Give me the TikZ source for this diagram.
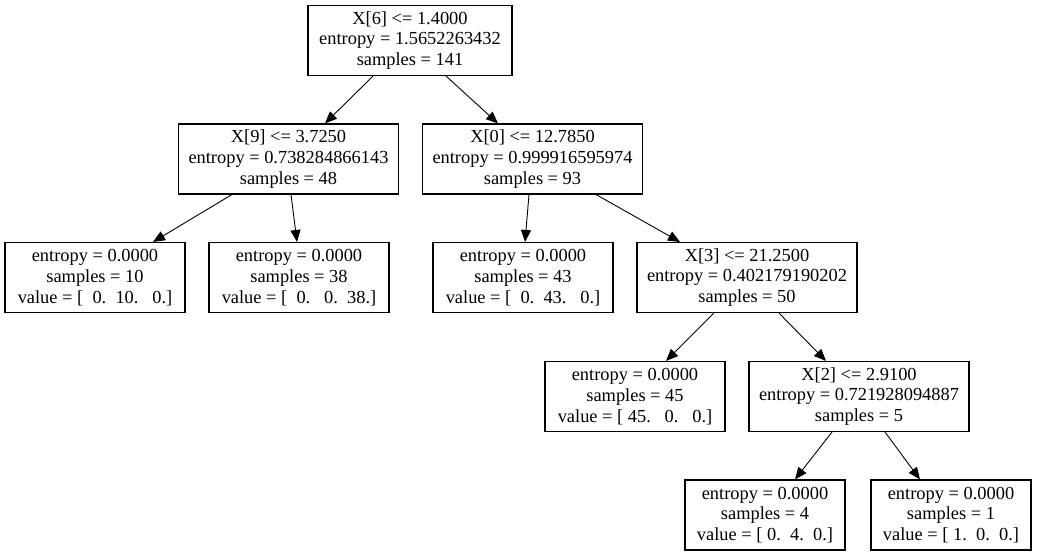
\documentclass[tikz,border=0pt]{standalone}
\usepackage{fontspec}
\setmainfont{Liberation Serif}
\usetikzlibrary{arrows.meta}
\begin{document}
\begin{tikzpicture}[x=1pt,y=1pt,
  box/.style={draw=black, line width=1.1pt, rectangle, align=center, inner sep=0pt,
    font=\fontsize{18.4}{20.8}\selectfont, text=black},
  inner/.style={box, minimum width=220pt, minimum height=70pt},
  leaf/.style={box, minimum width=180pt, minimum height=70pt},
  sleaf/.style={box, minimum width=160pt, minimum height=70pt},
  edge/.style={draw=black, line width=0.9pt, -{Triangle[length=12pt,width=10pt]}}]
\useasboundingbox[fill=white] (0,0) rectangle (1037,-556);
\node[box, minimum width=204pt, minimum height=70pt] (root) at (410,-40.5) {X[6] <= 1.4000\\entropy = 1.5652263432\\samples = 141};
\node[inner] (x9) at (288.5,-159) {X[9] <= 3.7250\\entropy = 0.738284866143\\samples = 48};
\node[inner] (x0) at (532.5,-159) {X[0] <= 12.7850\\entropy = 0.999916595974\\samples = 93};
\node[leaf] (l10) at (95,-277.5) {entropy = 0.0000\\samples = 10\\value = [\ \ 0.\ \ 10.\ \ \ 0.]};
\node[leaf] (l38) at (299,-277.5) {entropy = 0.0000\\samples = 38\\value = [\ \ 0.\ \ \ 0.\ \ 38.]};
\node[leaf] (l43) at (523,-277.5) {entropy = 0.0000\\samples = 43\\value = [\ \ 0.\ \ 43.\ \ \ 0.]};
\node[inner] (x3) at (747,-277.5) {X[3] <= 21.2500\\entropy = 0.402179190202\\samples = 50};
\node[leaf] (l45) at (635,-396.5) {entropy = 0.0000\\samples = 45\\value = [ 45.\ \ \ 0.\ \ \ 0.]};
\node[inner] (x2) at (859,-396.5) {X[2] <= 2.9100\\entropy = 0.721928094887\\samples = 5};
\node[sleaf] (l4) at (765,-515) {entropy = 0.0000\\samples = 4\\value = [ 0.\ \ 4.\ \ 0.]};
\node[sleaf] (l1) at (951,-515) {entropy = 0.0000\\samples = 1\\value = [ 1.\ \ 0.\ \ 0.]};
\draw[edge] ([xshift=-37pt]root.south) -- ([xshift=36.5pt]x9.north);
\draw[edge] ([xshift=36pt]root.south) -- ([xshift=-34.5pt]x0.north);
\draw[edge] ([xshift=-56.5pt]x9.south) -- ([xshift=58pt]l10.north);
\draw[edge] ([xshift=2.5pt]x9.south) -- ([xshift=-2pt]l38.north);
\draw[edge] ([xshift=-3.5pt]x0.south) -- ([xshift=2pt]l43.north);
\draw[edge] ([xshift=63.5pt]x0.south) -- ([xshift=-67pt]x3.north);
\draw[edge] ([xshift=-33pt]x3.south) -- ([xshift=31pt]l45.north);
\draw[edge] ([xshift=32pt]x3.south) -- ([xshift=-33pt]x2.north);
\draw[edge] ([xshift=-27pt]x2.south) -- ([xshift=30pt]l4.north);
\draw[edge] ([xshift=26pt]x2.south) -- ([xshift=-31pt]l1.north);
\end{tikzpicture}
\end{document}
